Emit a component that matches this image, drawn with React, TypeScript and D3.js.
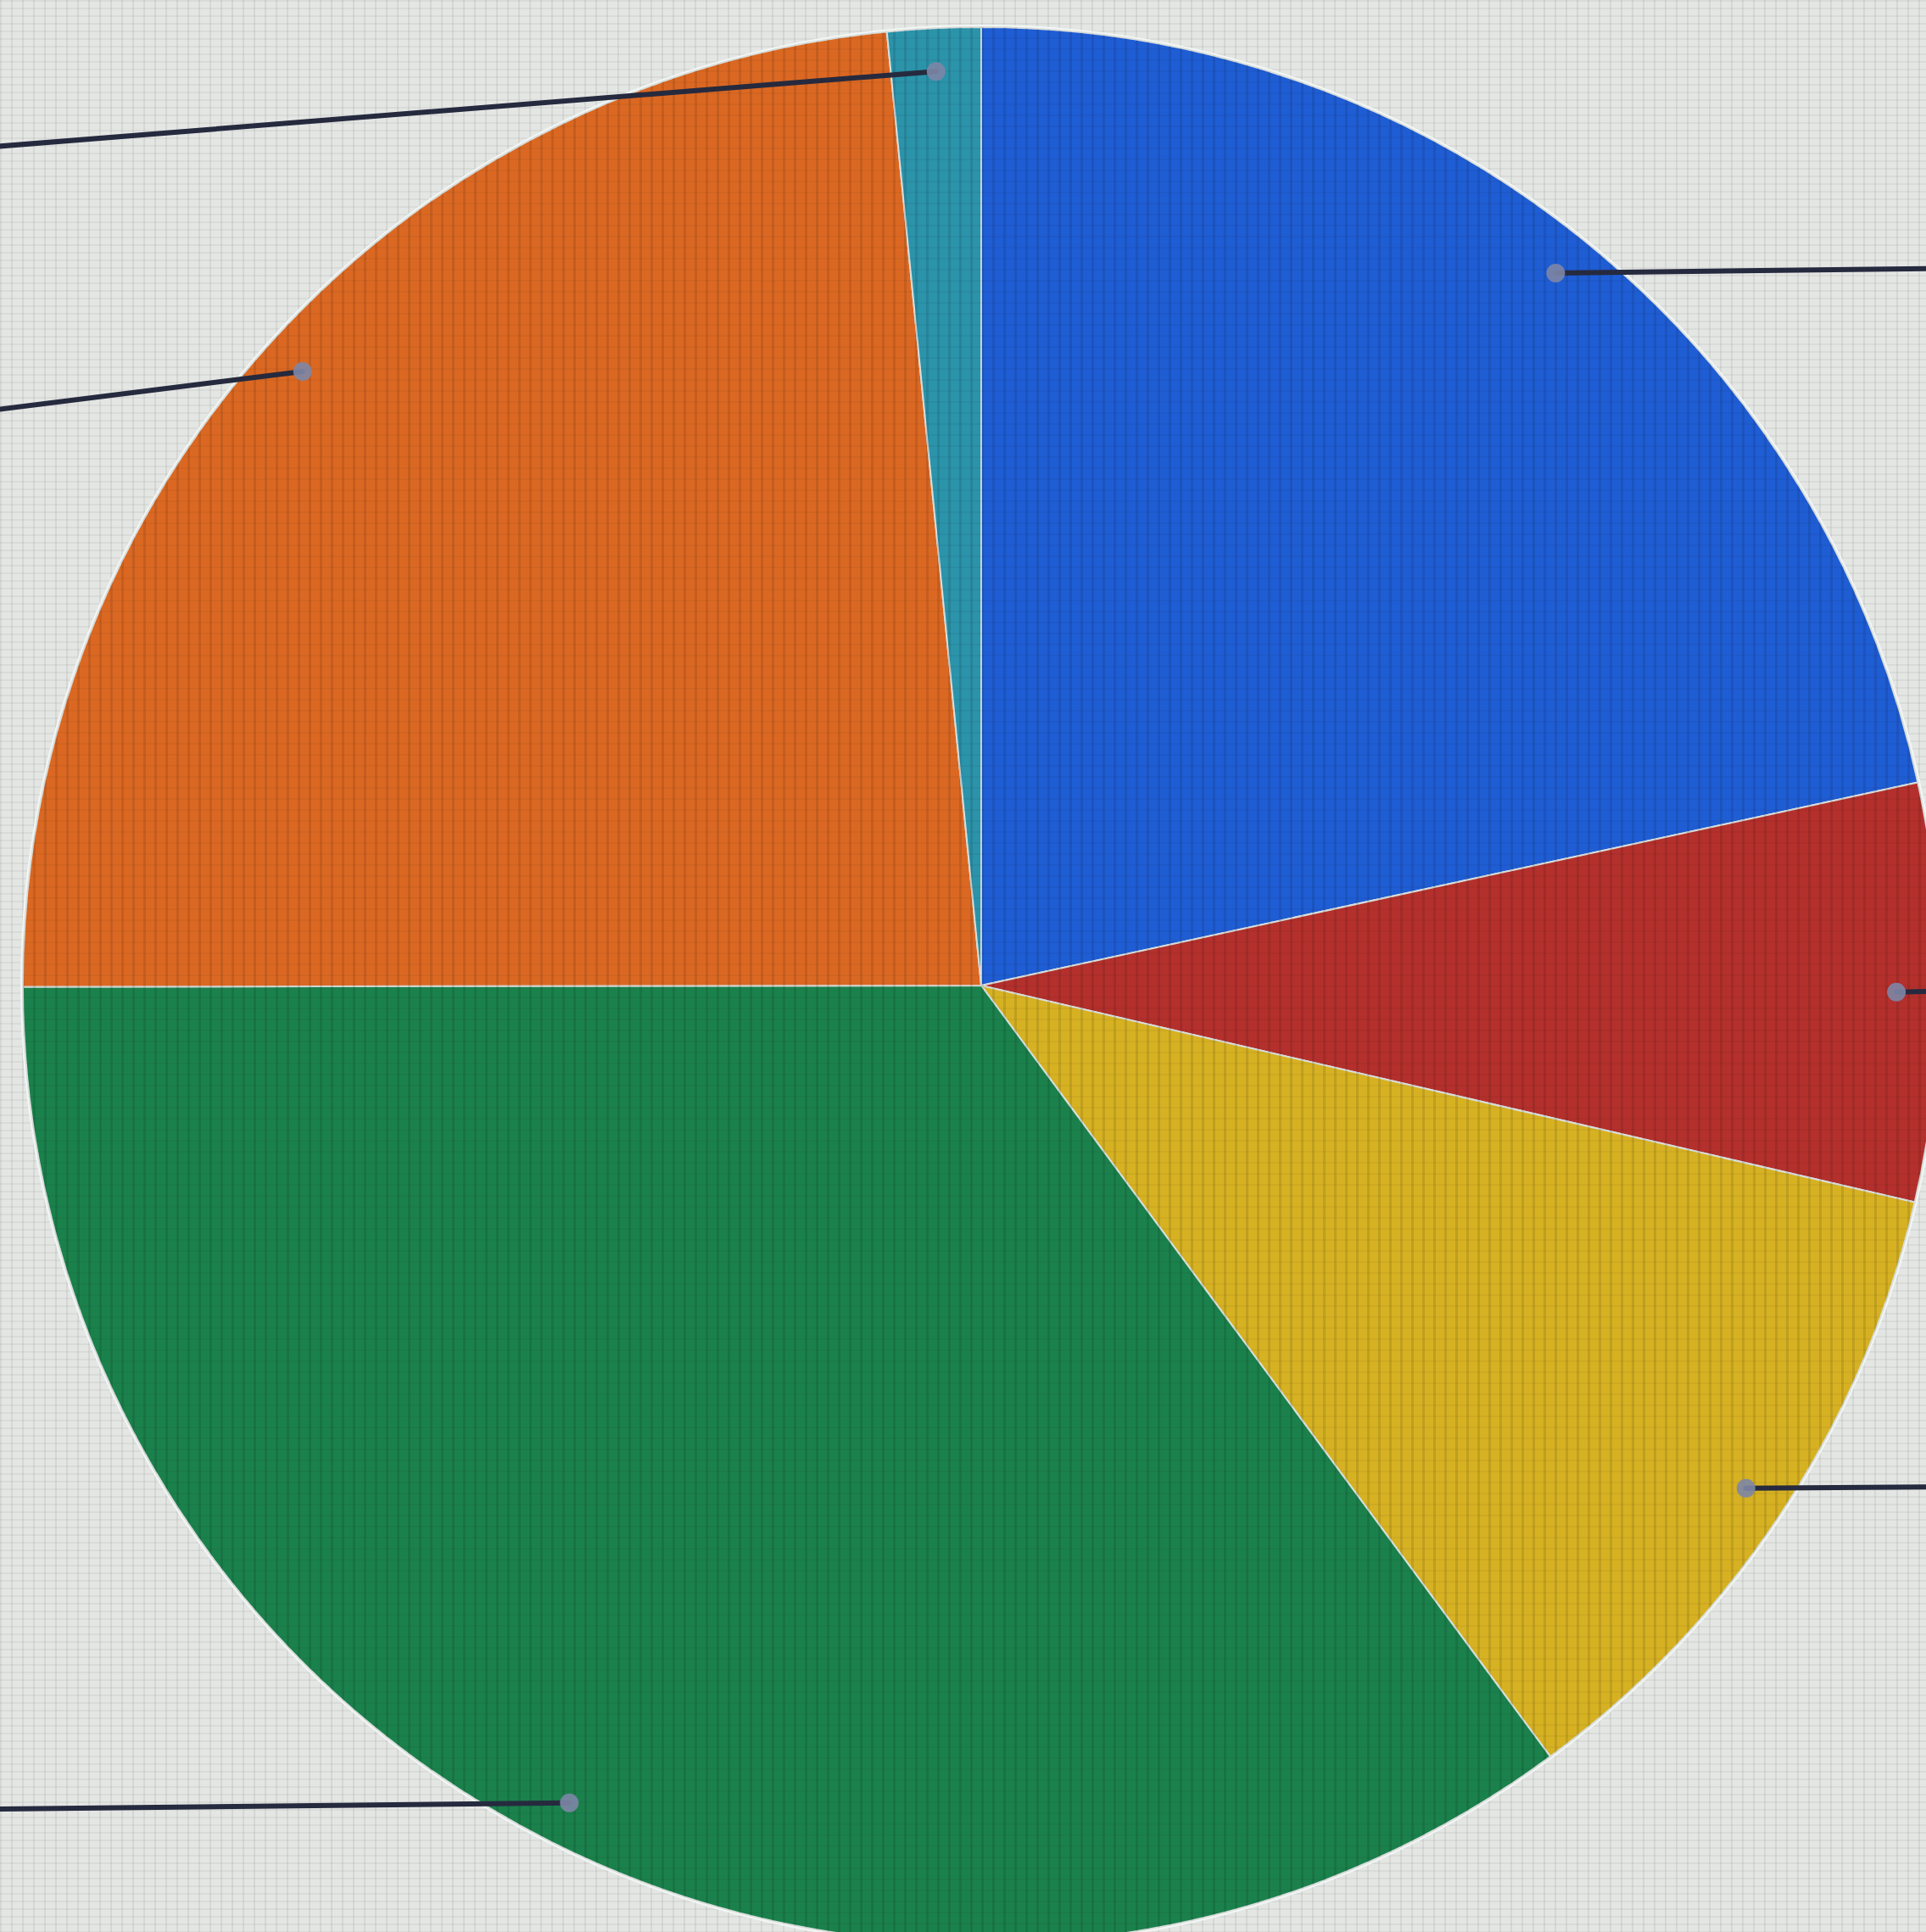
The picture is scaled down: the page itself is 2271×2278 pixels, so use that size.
import React from "react";
import * as d3 from "d3";

// Slice data, clockwise from 12 o'clock (percent of total)
const categories = ["Blue", "Red", "Yellow", "Green", "Orange", "Teal"];
const values = [21.6, 7.03, 11.25, 35.1, 23.45, 1.57];
const colors = ["#1f5dd4", "#b4302c", "#d6b122", "#1b814c", "#db6822", "#2b93aa"];

// Where each leader line heads (labels lie outside the photo frame)
const labelSide = [1, 1, 1, -1, -1, -1];
const labelDrop = [-6, -2, -2, 8, 52, 93];

const W = 2271;
const H = 2278;
const CX = 1157;
const CY = 1162;
const R = 1130;

export default function App() {
  const pie = d3
    .pie<number>()
    .sort(null)
    .value((d) => d)
    .startAngle(0)
    .endAngle(2 * Math.PI);
  const arcs = pie(values);
  const arc = d3.arc<d3.PieArcDatum<number>>().innerRadius(0).outerRadius(R);
  const dotArc = d3
    .arc<d3.PieArcDatum<number>>()
    .innerRadius(R * 0.955)
    .outerRadius(R * 0.955);

  return (
    <svg
      width={W}
      height={H}
      viewBox={`0 0 ${W} ${H}`}
      style={{ position: "absolute", left: 0, top: 0, display: "block" }}
    >
      <defs>
        <pattern id="screen" width="13" height="13" patternUnits="userSpaceOnUse">
          <rect x="0" y="0" width="3" height="13" fill="#000" opacity="0.10" />
          <rect x="0" y="0" width="13" height="2" fill="#000" opacity="0.04" />
        </pattern>
        <pattern id="bgscreen" width="13" height="9" patternUnits="userSpaceOnUse">
          <rect x="0" y="0" width="2" height="9" fill="#8a8f8c" opacity="0.18" />
          <rect x="0" y="0" width="13" height="2" fill="#8a8f8c" opacity="0.12" />
        </pattern>
      </defs>
      <rect x={0} y={0} width={W} height={H} fill="#e4e6e4" />
      <rect x={0} y={0} width={W} height={H} fill="url(#bgscreen)" />
      <g transform={`translate(${CX},${CY})`}>
        <circle r={R + 3} fill="#f2f7f5" />
        {arcs.map((a, i) => (
          <path
            key={categories[i]}
            d={arc(a) || ""}
            fill={colors[i]}
            stroke="#d9dedb"
            strokeWidth={2}
          />
        ))}
        <circle r={R} fill="url(#screen)" />
        {arcs.map((a, i) => {
          const [x, y] = dotArc.centroid(a);
          const ex = labelSide[i] > 0 ? W - CX + 60 : -CX - 60;
          const ey = y + labelDrop[i];
          return (
            <g key={"lbl" + i}>
              <line
                x1={x}
                y1={y}
                x2={ex}
                y2={ey}
                stroke="#262a3e"
                strokeWidth={6}
                strokeLinecap="round"
              />
              <circle cx={x} cy={y} r={11} fill="#7d86a6" opacity={0.9} />
            </g>
          );
        })}
      </g>
    </svg>
  );
}
